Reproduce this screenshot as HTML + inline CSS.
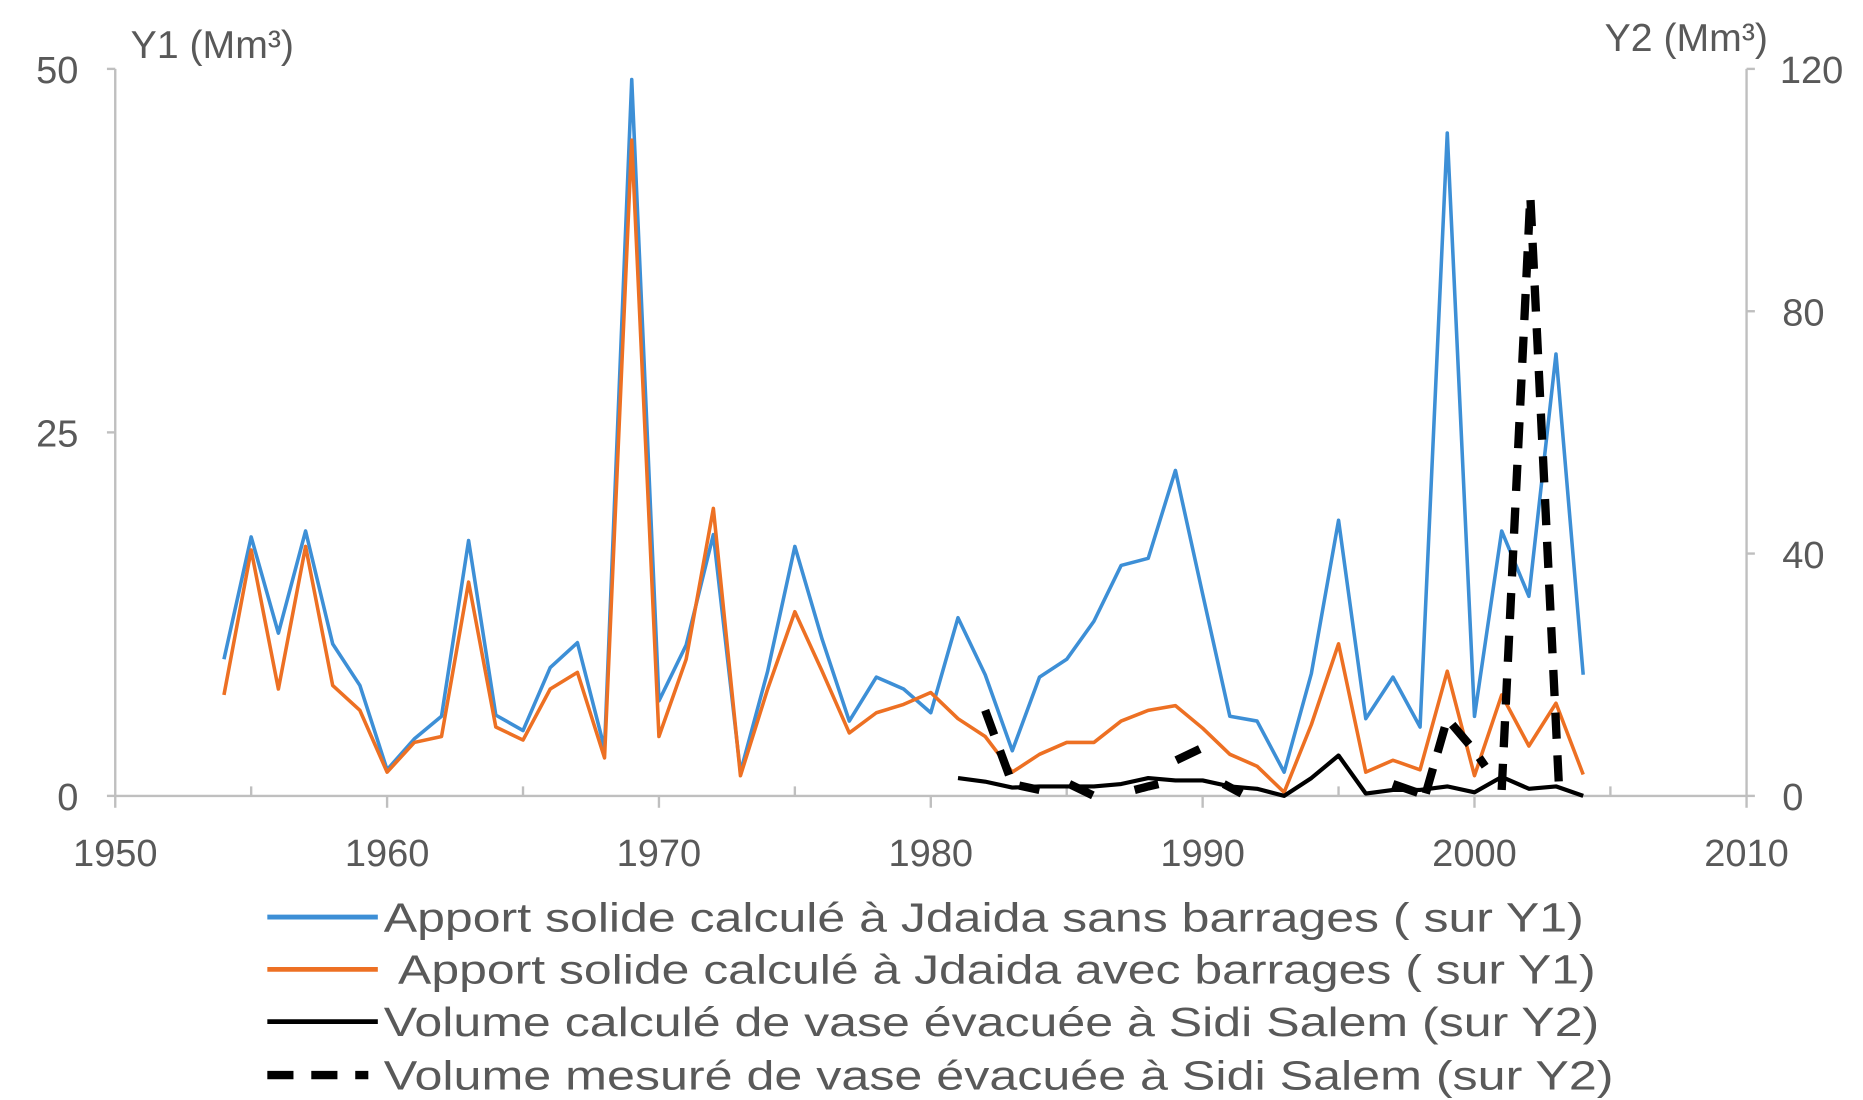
<!DOCTYPE html>
<html><head><meta charset="utf-8"><style>
html,body{margin:0;padding:0;background:#fff;width:1863px;height:1100px;overflow:hidden}
svg{display:block}
text{font-family:"Liberation Sans",sans-serif;fill:#595959}
</style></head><body>
<svg width="1863" height="1100" viewBox="0 0 1568 926" preserveAspectRatio="none">
<rect width="1568" height="926" fill="#fff"/>
<g stroke="#bfbfbf" stroke-width="2" fill="none">
<line x1="97" y1="58" x2="97" y2="670"/>
<line x1="1470" y1="58" x2="1470" y2="670"/>
<line x1="97" y1="670" x2="1470" y2="670"/>
<line x1="90" y1="58" x2="97" y2="58"/><line x1="90" y1="364" x2="97" y2="364"/><line x1="90" y1="670" x2="97" y2="670"/>
<line x1="1470" y1="58" x2="1477" y2="58"/><line x1="1470" y1="262" x2="1477" y2="262"/><line x1="1470" y1="466" x2="1477" y2="466"/><line x1="1470" y1="670" x2="1477" y2="670"/>
<line x1="97" y1="670" x2="97" y2="680"/><line x1="325.8" y1="670" x2="325.8" y2="680"/><line x1="554.6" y1="670" x2="554.6" y2="680"/><line x1="783.4" y1="670" x2="783.4" y2="680"/><line x1="1012.2" y1="670" x2="1012.2" y2="680"/><line x1="1241" y1="670" x2="1241" y2="680"/><line x1="1470" y1="670" x2="1470" y2="680"/>
<line x1="211.4" y1="662" x2="211.4" y2="670"/><line x1="440.2" y1="662" x2="440.2" y2="670"/><line x1="669" y1="662" x2="669" y2="670"/><line x1="897.8" y1="662" x2="897.8" y2="670"/><line x1="1126.6" y1="662" x2="1126.6" y2="670"/><line x1="1355.4" y1="662" x2="1355.4" y2="670"/>
</g>
<g font-size="32">
<text x="66" y="70" text-anchor="end">50</text>
<text x="66" y="376" text-anchor="end">25</text>
<text x="66" y="682" text-anchor="end">0</text>
<text x="1498" y="70">120</text>
<text x="1500" y="274">80</text>
<text x="1500" y="478">40</text>
<text x="1500" y="682">0</text>
<g text-anchor="middle">
<text x="97" y="729">1950</text><text x="325.8" y="729">1960</text><text x="554.6" y="729">1970</text><text x="783.4" y="729">1980</text><text x="1012.2" y="729">1990</text><text x="1241" y="729">2000</text><text x="1470" y="729">2010</text>
</g>
<text x="110" y="49" font-size="33">Y1 (Mm³)</text>
<text x="1488" y="43" font-size="33" text-anchor="end" fill="#222">Y2 (Mm³)</text>
</g>
<polyline fill="none" stroke="#3d8fd6" stroke-width="3" stroke-linejoin="round" points="188.5,555 211.4,452 234.3,533 257.2,447 280,542 302.9,577 325.8,648 348.7,622 371.6,603 394.4,455 417.3,602 440.2,615 463.1,562 486,541 508.8,630 531.7,67 554.6,590 577.5,543 600.4,450 623.2,650 646.1,565 669,460 691.9,538 714.8,607 737.6,570 760.5,580 783.4,600 806.3,520 829.2,568 852,632 874.9,570 897.8,555 920.7,523 943.6,476 966.4,470 989.3,396 1012.2,500 1035.1,603 1058,607 1080.8,650 1103.7,567 1126.6,438 1149.5,605 1172.4,570 1195.2,612 1218.1,112 1241,603 1263.9,447 1286.8,502 1309.6,298 1332.5,568"/>
<polyline fill="none" stroke="#ed7023" stroke-width="3" stroke-linejoin="round" points="188.5,585 211.4,463 234.3,580 257.2,460 280,577 302.9,598 325.8,650 348.7,625 371.6,620 394.4,490 417.3,612 440.2,623 463.1,580 486,566 508.8,638 531.7,118 554.6,620 577.5,555 600.4,428 623.2,653 646.1,580 669,515 691.9,565 714.8,617 737.6,600 760.5,593 783.4,583 806.3,605 829.2,620 852,650 874.9,635 897.8,625 920.7,625 943.6,607 966.4,598 989.3,594 1012.2,613 1035.1,635 1058,645 1080.8,667 1103.7,610 1126.6,542 1149.5,650 1172.4,640 1195.2,648 1218.1,565 1241,653 1263.9,585 1286.8,628 1309.6,592 1332.5,652"/>
<polyline fill="none" stroke="#000" stroke-width="3.5" stroke-linejoin="round" points="806.3,655 829.2,658 852,663 874.9,662 897.8,662 920.7,662 943.6,660 966.4,655 989.3,657 1012.2,657 1035.1,662 1058,664 1080.8,670 1103.7,655 1126.6,636 1149.5,668 1172.4,665 1195.2,665 1218.1,662 1241,667 1263.9,654 1286.8,664 1309.6,662 1332.5,670"/>
<g fill="none" stroke="#000" stroke-width="7" stroke-dasharray="22,14" stroke-linecap="butt">
<polyline points="829.2,598 852,660 874.9,665"/>
<polyline points="900,660 920.7,670"/>
<polyline points="955,665 966.4,662 975,660"/>
<polyline points="990,640 1015,628"/>
<polyline points="1030,660 1045,668"/>
<polyline points="1172.4,660 1195.2,668"/>
<polyline points="1200,668 1218.1,605 1241,632 1250,645"/>
<polyline points="1263.9,665 1288,165 1312,660"/>
</g>
<g stroke-width="4">
<line x1="225" y1="772" x2="318" y2="772" stroke="#3d8fd6"/>
<line x1="225" y1="816" x2="318" y2="816" stroke="#ed7023"/>
<line x1="225" y1="860" x2="318" y2="860" stroke="#000"/>
<line x1="225" y1="905" x2="310" y2="905" stroke="#000" stroke-width="7" stroke-dasharray="22,15"/>
</g>
<g font-size="34">
<text x="323" y="784" textLength="1010" lengthAdjust="spacingAndGlyphs">Apport solide calculé à Jdaida sans barrages ( sur Y1)</text>
<text x="335" y="828" textLength="1008" lengthAdjust="spacingAndGlyphs">Apport solide calculé à Jdaida avec barrages ( sur Y1)</text>
<text x="323" y="872" textLength="1023" lengthAdjust="spacingAndGlyphs">Volume calculé de vase évacuée à Sidi Salem (sur Y2)</text>
<text x="323" y="917" textLength="1035" lengthAdjust="spacingAndGlyphs">Volume mesuré de vase évacuée à Sidi Salem (sur Y2)</text>
</g>
</svg>
</body></html>
